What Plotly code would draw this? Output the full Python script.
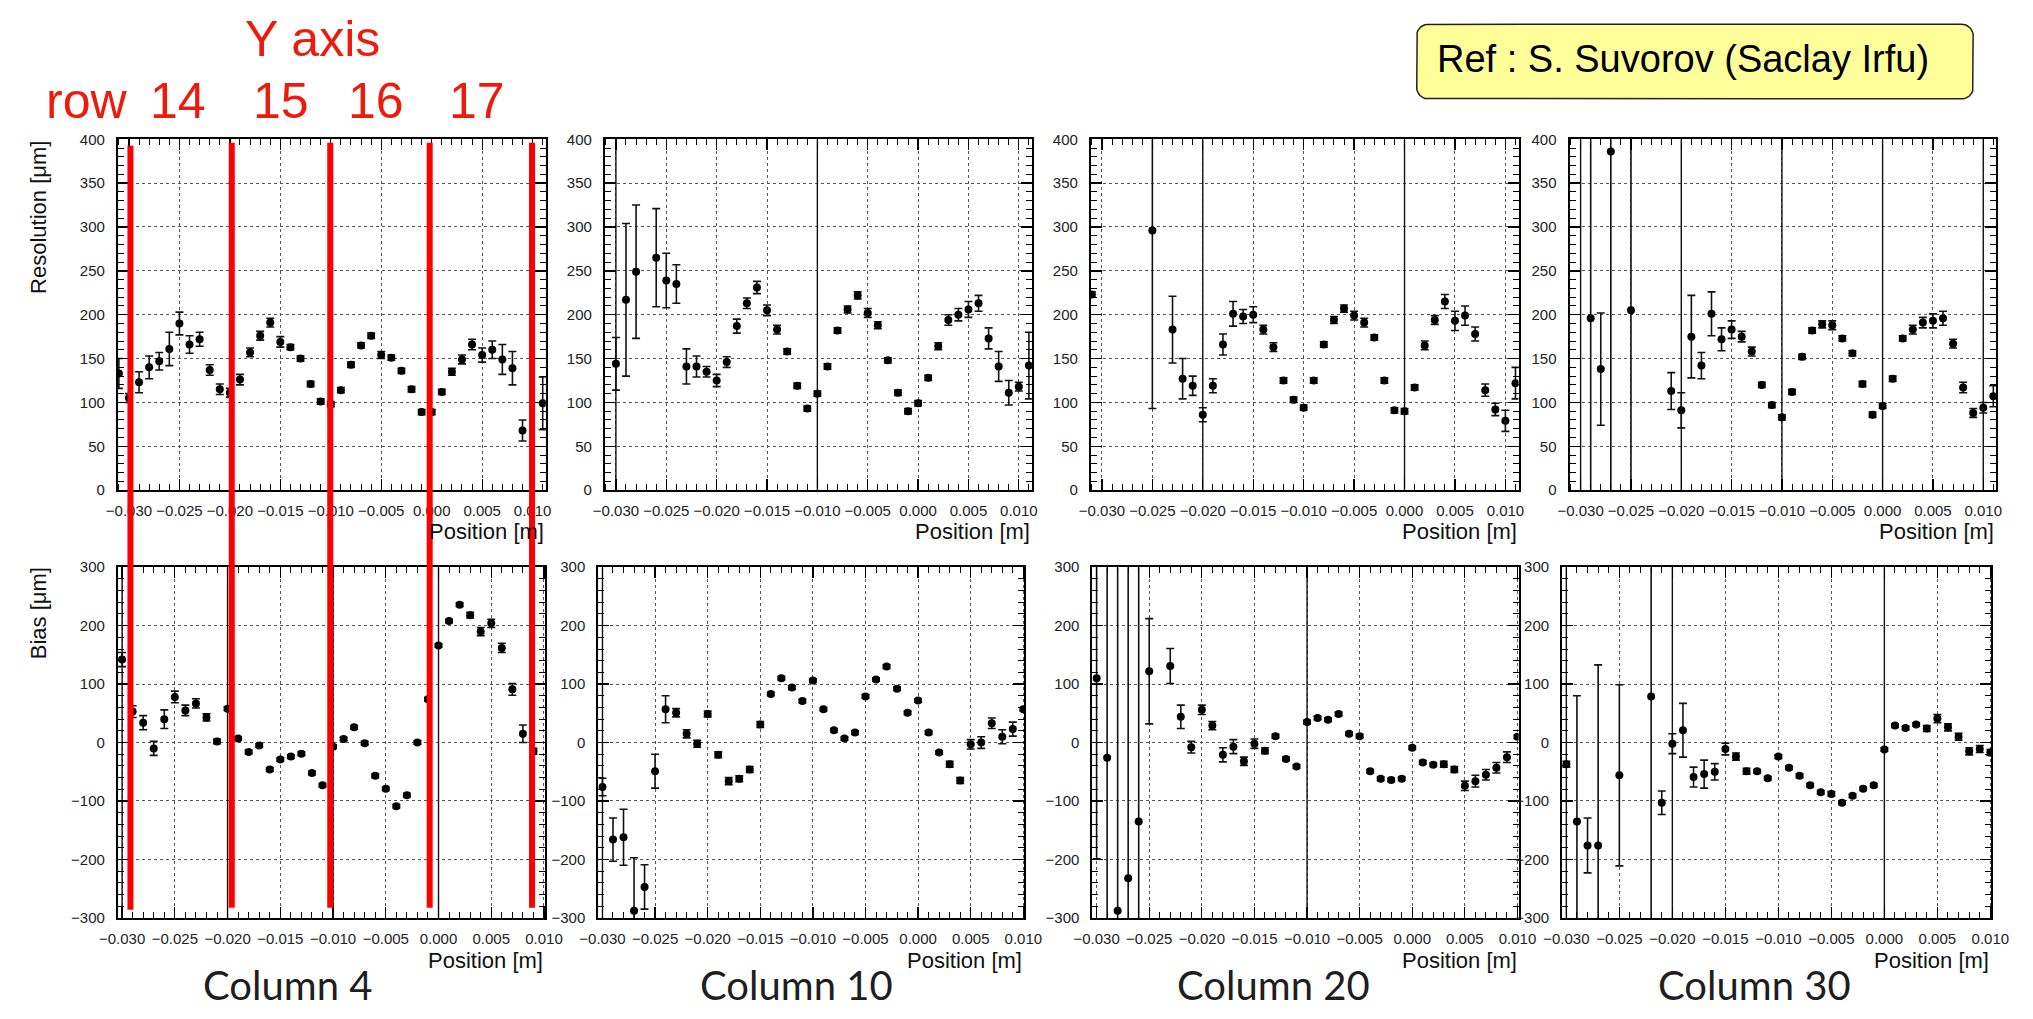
import math
import plotly.graph_objects as go

W, H = 2033, 1019

# ---------------- data: resolution (um) and bias (um) versus position (mm) ----------------
# Column 4
pos_res_c4 = [-31, -30, -29, -28, -27, -26, -25, -24, -23, -22, -21, -20, -19, -18, -17, -16, -15, -14, -13, -12,
              -11, -10, -9, -8, -7, -6, -5, -4, -3, -2, -1, 0, 1, 2, 3, 4, 5, 6, 7, 8, 9, 11]
res_c4 = [133, 105, 123, 140, 147, 161, 190, 166, 172, 137, 115, 111, 126, 157, 176, 191, 169, 163, 150, 121,
          101, 98, 114, 143, 165, 176, 154, 151, 136, 115, 89, 89, 112, 135, 149, 166, 154, 160, 149, 139, 68, 99]
res_c4_err = [17, 5, 12, 13, 10, 19, 13, 10, 8, 6, 6, 5, 6, 5, 5, 5, 6, 3, 3, 3,
              3, 3, 3, 3, 3, 3, 4, 3, 3, 3, 3, 3, 3, 4, 5, 6, 8, 10, 17, 19, 12, 30]

pos_bias_c4 = [-30, -29, -28, -27, -26, -25, -24, -23, -22, -21, -20, -19, -18, -17, -16, -15, -14, -13, -12, -11,
               -10, -9, -8, -7, -6, -5, -4, -3, -2, -1, 0, 1, 2, 3, 4, 5, 6, 7, 8, 9]
bias_c4 = [142, 53, 34, -10, 40, 78, 55, 67, 43, 2, 58, 7, -16, -5, -46, -29, -24, -19, -52, -73,
           -7, 6, 26, -1, -57, -79, -109, -90, 0, 74, 166, 208, 236, 218, 190, 204, 162, 91, 15, -15]
bias_c4_err = [12, 10, 12, 12, 16, 10, 9, 8, 6, 4, 3, 3, 3, 3, 3, 3, 3, 3, 3, 3,
               3, 3, 3, 3, 3, 3, 3, 3, 3, 3, 3, 3, 3, 5, 7, 7, 8, 10, 15, 5]

# Column 10
pos_res_c10 = [-30, -29, -28, -26, -25, -24, -23, -22, -21, -20, -19, -18, -17, -16, -15, -14, -13, -12, -11, -10,
               -9, -8, -7, -6, -5, -4, -3, -2, -1, 0, 1, 2, 3, 4, 5, 6, 7, 8, 9, 10, 11]
res_c10 = [144, 217, 249, 265, 239, 235, 141, 141, 135, 125, 146, 187, 213, 231, 205, 183, 158, 119, 93, 110,
           141, 182, 206, 222, 202, 188, 148, 111, 90, 99, 128, 164, 194, 200, 206, 213, 173, 141, 111, 118, 142]
res_c10_err = [30, 87, 76, 56, 31, 22, 20, 12, 6, 7, 6, 8, 6, 7, 6, 5, 3, 3, 3, 3,
               3, 3, 4, 4, 5, 4, 3, 3, 3, 3, 3, 4, 6, 7, 9, 9, 12, 17, 14, 5, 38]

pos_bias_c10 = [-30, -29, -28, -27, -26, -25, -24, -23, -22, -21, -20, -19, -18, -17, -16, -15, -14, -13, -12, -11,
                -10, -9, -8, -7, -6, -5, -4, -3, -2, -1, 0, 1, 2, 3, 4, 5, 6, 7, 8, 9, 10]
bias_c10 = [-76, -166, -162, -288, -247, -49, 57, 51, 15, -2, 49, -21, -66, -62, -46, 31, 83, 110, 94, 71,
            106, 57, 21, 7, 17, 79, 108, 130, 92, 51, 72, 17, -17, -37, -65, -3, 0, 33, 10, 23, 57]
bias_c10_err = [15, 37, 48, 91, 38, 29, 23, 7, 7, 6, 5, 5, 6, 5, 5, 5, 3, 3, 3, 3,
                3, 3, 3, 3, 3, 3, 3, 3, 3, 3, 3, 3, 3, 5, 5, 8, 10, 9, 12, 12, 3]

# Column 20
pos_res_c20 = [-31, -25, -23, -22, -21, -20, -19, -18, -17, -16, -15, -14, -13, -12, -11, -10, -9, -8, -7, -6,
               -5, -4, -3, -2, -1, 0, 1, 2, 3, 4, 5, 6, 7, 8, 9, 10, 11]
res_c20 = [223, 296, 183, 127, 119, 86, 119, 166, 201, 198, 200, 183, 163, 125, 103, 94, 125, 166, 194, 207,
           199, 191, 174, 125, 91, 90, 117, 165, 194, 215, 193, 199, 178, 114, 92, 79, 122]
res_c20_err = [3, 203, 38, 23, 11, 8, 8, 12, 14, 8, 9, 5, 5, 3, 3, 3, 3, 3, 4, 4,
               5, 5, 3, 3, 3, 3, 3, 5, 5, 8, 11, 11, 8, 7, 7, 12, 18]

pos_bias_c20 = [-30, -29, -28, -27, -26, -25, -23, -22, -21, -20, -19, -18, -17, -16, -15, -14, -13, -12, -11, -10,
                -9, -8, -7, -6, -5, -4, -3, -2, -1, 0, 1, 2, 3, 4, 5, 6, 7, 8, 9, 10]
bias_c20 = [110, -26, -288, -232, -135, 122, 131, 44, -8, 56, 29, -21, -7, -32, -2, -14, 11, -28, -41, 35,
            42, 39, 49, 15, 11, -49, -62, -64, -62, -9, -34, -38, -37, -46, -74, -66, -55, -43, -25, 10]
bias_c20_err = [309, 400, 600, 600, 500, 90, 30, 20, 10, 8, 7, 12, 12, 7, 8, 5, 3, 3, 3, 3,
                3, 3, 3, 3, 3, 3, 3, 3, 3, 3, 3, 3, 5, 5, 8, 10, 9, 9, 9, 3]

# Column 30
pos_res_c30 = [-29, -28, -27, -25, -21, -20, -19, -18, -17, -16, -15, -14, -13, -12, -11, -10, -9, -8, -7, -6,
               -5, -4, -3, -2, -1, 0, 1, 2, 3, 4, 5, 6, 7, 8, 9, 10, 11]
res_c30 = [196, 138, 386, 205, 113, 91, 175, 142, 201, 172, 183, 175, 158, 120, 97, 83, 112, 152, 182, 189,
           188, 173, 156, 121, 86, 96, 127, 173, 183, 191, 193, 196, 167, 117, 88, 94, 107]
res_c30_err = [250, 64, 400, 300, 21, 20, 47, 15, 25, 13, 10, 6, 5, 3, 3, 3, 3, 3, 3, 4,
               5, 3, 3, 3, 3, 3, 3, 3, 5, 6, 8, 8, 5, 6, 5, 6, 12]

pos_bias_c30 = [-30, -29, -28, -27, -25, -22, -21, -20, -19, -18, -17, -16, -15, -14, -13, -12, -11, -10, -9, -8,
                -7, -6, -5, -4, -3, -2, -1, 0, 1, 2, 3, 4, 5, 6, 7, 8, 9, 10]
bias_c30 = [-37, -135, -176, -176, -56, 79, -103, -2, 21, -59, -54, -50, -11, -24, -49, -49, -61, -24, -43, -57,
            -73, -85, -88, -103, -91, -79, -73, -12, 29, 25, 31, 24, 41, 26, 10, -15, -11, -17]
bias_c30_err = [5, 215, 47, 309, 155, 450, 20, 17, 46, 17, 24, 14, 10, 6, 5, 3, 3, 3, 3, 3,
                3, 3, 4, 3, 3, 3, 3, 3, 3, 3, 3, 5, 7, 6, 6, 6, 6, 5]

column_labels = ["Column 4", "Column 10", "Column 20", "Column 30"]

resolution_sets = [(pos_res_c4, res_c4, res_c4_err), (pos_res_c10, res_c10, res_c10_err),
                   (pos_res_c20, res_c20, res_c20_err), (pos_res_c30, res_c30, res_c30_err)]
bias_sets = [(pos_bias_c4, bias_c4, bias_c4_err), (pos_bias_c10, bias_c10, bias_c10_err),
             (pos_bias_c20, bias_c20, bias_c20_err), (pos_bias_c30, bias_c30, bias_c30_err)]

# ---------------- frame geometry (pixels) ----------------
top_frames = [(100.7, 536.5), (596.7, 1031.7), (1091.7, 1527.3), (1579.3, 2014.0)]
bot_frames = [(100.7, 535.8), (590.0, 1024.0), (1093.3, 1527.3), (1571.7, 2009.0)]
top_y = (132.5, 489.3)
bot_y = (567.7, 924.3)
caption_x = [273, 792, 1278, 1768]

# dark solid-looking vertical grid lines in each frame (positions in m)
solid_grid_top = [[], [-0.030, -0.010], [-0.020, 0.000], [-0.030, -0.020, -0.010, 0.000, 0.010]]
solid_grid_bot = [[-0.030, -0.020, -0.010, 0.000], [-0.030], [-0.010], [-0.030, -0.020, 0.000]]

TICK_FONT = dict(family="Liberation Sans, Arial, sans-serif", size=15, color="#222")
LABEL_FONT = dict(family="Liberation Sans, Arial, sans-serif", size=22, color="#111")


def px(x):
    return x / W


def py(y):
    return 1 - y / H


def xdom(a, b):
    return [px(a), px(b)]


def ydom(top, bottom):
    return [py(bottom), py(top)]


fig = go.Figure()
layout = dict(
    width=W, height=H, margin=dict(l=0, r=0, t=0, b=0),
    paper_bgcolor="white", plot_bgcolor="rgba(0,0,0,0)", showlegend=False,
)
annotations = []


def axis_pair(idx, xd, yd, xrange_, yrange_, ydtick, yminor):
    xa = dict(
        domain=xd, range=xrange_, anchor=f"y{idx}",
        showline=True, linecolor="black", linewidth=2, mirror="ticks",
        ticks="inside", ticklen=11, tickwidth=1.3, tickcolor="black",
        tick0=0, dtick=0.005, tickformat=".3f", tickfont=TICK_FONT, ticklabelstandoff=6,
        minor=dict(ticks="inside", ticklen=6, dtick=0.001, tick0=0, tickcolor="black", tickwidth=1),
        showgrid=True, gridcolor="#555", griddash="dot", gridwidth=1, zeroline=False,
    )
    ya = dict(
        domain=yd, range=yrange_, anchor=f"x{idx}",
        showline=True, linecolor="black", linewidth=2, mirror="ticks",
        ticks="inside", ticklen=11, tickwidth=1.3, tickcolor="black",
        tick0=0, dtick=ydtick, tickfont=TICK_FONT, ticklabelstandoff=8,
        minor=dict(ticks="inside", ticklen=6, dtick=yminor, tick0=0, tickcolor="black", tickwidth=1),
        showgrid=True, gridcolor="#555", griddash="dot", gridwidth=1, zeroline=False,
    )
    return xa, ya


def add_solid_grid(idx, positions, yrange_):
    if not positions:
        return
    xs, ys = [], []
    for gx in positions:
        xs += [gx, gx, None]
        ys += [yrange_[0], yrange_[1], None]
    fig.add_trace(go.Scatter(x=xs, y=ys, mode="lines", line=dict(color="#111", width=1.4),
                             hoverinfo="skip", xaxis=f"x{idx}", yaxis=f"y{idx}"))


def add_points(idx, pos_mm, vals, errs):
    fig.add_trace(go.Scatter(
        x=[p / 1000 for p in pos_mm], y=vals, mode="markers",
        marker=dict(color="black", size=8),
        error_y=dict(type="data", array=errs, visible=True, color="#111", thickness=1.6, width=4),
        xaxis=f"x{idx}", yaxis=f"y{idx}", cliponaxis=True,
    ))


for c in range(4):
    # resolution row
    i = c + 1
    xa, ya = axis_pair(i, xdom(*top_frames[c]), ydom(*top_y), [-0.0311, 0.0113], [0, 400], 50, 10)
    layout["xaxis" + str(i)] = xa
    layout["yaxis" + str(i)] = ya
    add_solid_grid(i, solid_grid_top[c], [0, 400])
    add_points(i, *resolution_sets[c])
    annotations.append(dict(text="Position [m]", xref="paper", yref="paper",
                            x=px(top_frames[c][1]), y=py(531), xanchor="right", yanchor="middle",
                            showarrow=False, font=LABEL_FONT))

    # bias row
    j = c + 5
    xa, ya = axis_pair(j, xdom(*bot_frames[c]), ydom(*bot_y), [-0.0304, 0.0101], [-300, 300], 100, 20)
    layout["xaxis" + str(j)] = xa
    layout["yaxis" + str(j)] = ya
    add_solid_grid(j, solid_grid_bot[c], [-300, 300])
    add_points(j, *bias_sets[c])
    annotations.append(dict(text="Position [m]", xref="paper", yref="paper",
                            x=px(bot_frames[c][1]), y=py(968), xanchor="right", yanchor="middle",
                            showarrow=False, font=LABEL_FONT))

    # column caption
    annotations.append(dict(text=column_labels[c], xref="paper", yref="paper",
                            x=px(caption_x[c]), y=py(993), xanchor="center", yanchor="middle",
                            showarrow=False, font=dict(family="Lato, sans-serif", size=40, color="#1e1e1e")))

# y-axis titles on the first column (aligned to the top of the axis)
annotations.append(dict(text="Resolution [μm]", xref="paper", yref="paper", x=px(20), y=py(132),
                        xanchor="center", yanchor="top", textangle=-90, showarrow=False, font=LABEL_FONT))
annotations.append(dict(text="Bias [μm]", xref="paper", yref="paper", x=px(20), y=py(566),
                        xanchor="center", yanchor="top", textangle=-90, showarrow=False, font=LABEL_FONT))

# full-figure overlay axes in pixel units for the markings drawn over the panels
layout["xaxis9"] = dict(domain=[0, 1], range=[0, W], visible=False, fixedrange=True, anchor="y9")
layout["yaxis9"] = dict(domain=[0, 1], range=[H, 0], visible=False, fixedrange=True, anchor="x9")

# red row markers over the Column 4 panels
RED = "#ff0000"
rx_list = [113.5, 216.7, 317.0, 418.3, 522.5]
lx, ly = [], []
for rx in rx_list:
    y_top = 139 if rx < 150 else 136
    y_bot = 916 if rx < 150 else 914
    lx += [rx, rx, None]
    ly += [y_top, y_bot, None]
fig.add_trace(go.Scatter(x=lx, y=ly, mode="lines", line=dict(color=RED, width=6),
                         hoverinfo="skip", xaxis="x9", yaxis="y9", cliponaxis=False))

# reference box with rounded corners
bx0, bx1, by0, by1, rr = 1423.5, 1990.5, 15.5, 91.5, 12
bxs, bys = [], []
corners = [(bx1 - rr, by0 + rr, -90), (bx1 - rr, by1 - rr, 0), (bx0 + rr, by1 - rr, 90), (bx0 + rr, by0 + rr, 180)]
for cx, cy, a0 in corners:
    for k in range(10):
        a = math.radians(a0 + 9 * k)
        bxs.append(cx + rr * math.cos(a))
        bys.append(cy + rr * math.sin(a))
bxs.append(bxs[0])
bys.append(bys[0])
fig.add_trace(go.Scatter(x=bxs, y=bys, mode="lines", fill="toself", fillcolor="#ffff99",
                         line=dict(color="#222", width=1.5), hoverinfo="skip",
                         xaxis="x9", yaxis="y9", cliponaxis=False))

red_font = dict(family="Liberation Sans, Arial", size=50, color="#ee1b0c")
annotations.append(dict(text="Y axis", xref="paper", yref="paper", x=px(299), y=py(31),
                        xanchor="center", yanchor="middle", showarrow=False, font=red_font))
for label, cx in [("row", 69), ("14", 162), ("15", 267), ("16", 364), ("17", 466)]:
    annotations.append(dict(text=label, xref="paper", yref="paper", x=px(cx), y=py(94),
                            xanchor="center", yanchor="middle", showarrow=False, font=red_font))
annotations.append(dict(text="Ref : S. Suvorov (Saclay Irfu)", xref="paper", yref="paper",
                        x=px(1442), y=py(51), xanchor="left", yanchor="middle", showarrow=False,
                        font=dict(family="Liberation Sans, Arial", size=38, color="black")))

layout["annotations"] = annotations
fig.update_layout(**layout)

# pin the figure to the top-left corner of the page so that it fills the window exactly
pin_script = (
    "document.documentElement.style.margin='0';"
    "document.documentElement.style.overflow='hidden';"
    "document.body.style.margin='0';"
    "document.body.style.overflow='hidden';"
    "document.body.style.lineHeight='0';"
    "document.body.style.fontSize='0';"
    "var g=document.getElementById('{plot_id}');"
    "g.style.position='fixed';g.style.left='0px';g.style.top='0px';"
)
fig.write_html("out.html", config=dict(staticPlot=True, displayModeBar=False), post_script=pin_script)
